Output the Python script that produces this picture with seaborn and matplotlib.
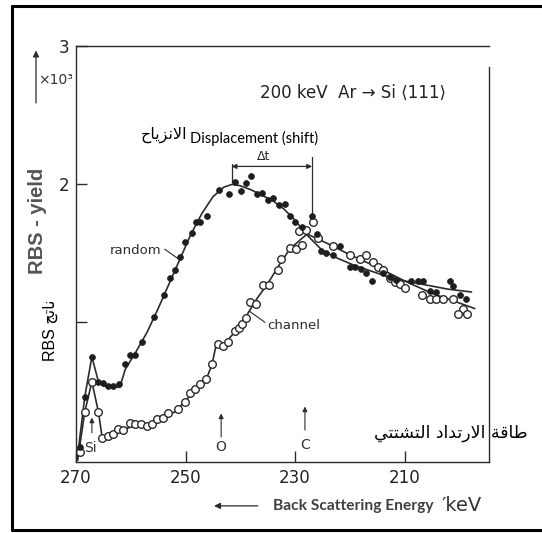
import matplotlib
matplotlib.use("Agg")
import matplotlib.pyplot as plt
import seaborn as sns
import pandas as pd
from matplotlib.lines import Line2D

# ---------------- data ----------------
random_x = [269.3, 268.4, 267.1, 265.9, 265.0, 264.1, 263.2, 262.1, 261.1, 260.1,
            259.2, 258.0, 255.8, 253.9, 252.8, 251.9, 251.0, 250.1, 248.9, 248.0,
            247.3, 246.0, 243.8, 242.0, 240.9, 239.8, 239.0, 238.1, 237.0, 236.1,
            234.9, 234.0, 232.9, 231.9, 230.9, 230.0, 228.8, 227.0, 226.0, 225.2,
            224.3, 223.0, 221.8, 220.0, 219.1, 217.9, 217.0, 216.0, 213.9, 212.7,
            211.5, 208.8, 207.5, 206.6, 205.4, 204.2, 201.8, 201.2, 199.9, 198.8]
random_y = [0.10, 0.46, 0.75, 0.57, 0.56, 0.54, 0.54, 0.55, 0.70, 0.76,
            0.76, 0.86, 1.04, 1.20, 1.32, 1.38, 1.47, 1.58, 1.65, 1.73,
            1.73, 1.77, 1.96, 1.93, 2.02, 1.95, 2.01, 2.06, 1.93, 1.94,
            1.89, 1.90, 1.85, 1.86, 1.77, 1.73, 1.69, 1.77, 1.64, 1.52,
            1.50, 1.49, 1.55, 1.40, 1.40, 1.39, 1.36, 1.30, 1.36, 1.33,
            1.31, 1.30, 1.30, 1.30, 1.23, 1.22, 1.30, 1.26, 1.20, 1.17]

channel_x = [269.3, 268.4, 267.1, 265.9, 265.2, 264.1, 263.2, 262.3, 261.4, 260.1,
             259.2, 258.2, 257.1, 256.2, 255.2, 254.1, 253.2, 251.3, 250.1, 249.2,
             248.3, 247.4, 246.2, 245.1, 244.1, 243.2, 242.2, 241.0, 240.3, 239.7,
             239.0, 238.3, 237.2, 235.9, 234.7, 233.1, 232.6, 230.9, 229.9, 228.8,
             229.2, 228.0, 226.8, 225.8, 223.0, 220.0, 218.2, 217.0, 215.7, 214.8,
             213.9, 212.7, 211.8, 210.9, 210.0, 206.9, 205.4, 204.2, 203.0, 201.2,
             199.4, 200.2, 198.7]
channel_y = [0.06, 0.35, 0.57, 0.35, 0.16, 0.18, 0.19, 0.23, 0.22, 0.27,
             0.26, 0.26, 0.25, 0.26, 0.30, 0.31, 0.34, 0.37, 0.42, 0.49,
             0.52, 0.55, 0.59, 0.70, 0.84, 0.83, 0.86, 0.94, 0.96, 0.99,
             1.03, 1.15, 1.13, 1.27, 1.27, 1.38, 1.46, 1.54, 1.53, 1.56,
             1.66, 1.67, 1.73, 1.61, 1.55, 1.49, 1.46, 1.49, 1.44, 1.40,
             1.38, 1.32, 1.29, 1.28, 1.25, 1.20, 1.17, 1.17, 1.17, 1.17,
             1.10, 1.06, 1.06]

# hand-drawn guide curves through the points
random_curve_x = [269.8, 268.4, 267.1, 265.9, 265.0, 263.0, 262.0, 261.0, 259.0, 257.0,
                  255.0, 253.0, 251.0, 249.0, 247.0, 245.0, 243.0, 241.5, 240.0, 238.0,
                  236.0, 234.0, 232.0, 230.0, 228.0, 226.0, 225.0, 222.0, 219.0, 216.0,
                  213.0, 210.0, 206.0, 202.0, 197.8]
random_curve_y = [0.00, 0.46, 0.75, 0.57, 0.54, 0.53, 0.53, 0.66, 0.79, 0.93,
                  1.10, 1.28, 1.46, 1.64, 1.79, 1.91, 1.98, 2.00, 1.99, 1.96,
                  1.92, 1.88, 1.82, 1.74, 1.64, 1.56, 1.52, 1.46, 1.41, 1.37,
                  1.33, 1.30, 1.27, 1.24, 1.22]
channel_curve_x = [269.7, 268.4, 267.1, 265.9, 265.2, 263.0, 261.0, 258.0, 256.0, 254.0,
                   252.0, 250.0, 248.0, 246.0, 245.2, 244.5, 243.0, 241.0, 239.0, 237.0,
                   235.0, 233.0, 231.0, 229.0, 227.8, 224.0, 220.0, 215.0, 210.0, 205.0,
                   200.0, 197.2]
channel_curve_y = [0.00, 0.35, 0.57, 0.35, 0.16, 0.19, 0.23, 0.26, 0.27, 0.31,
                   0.35, 0.43, 0.53, 0.61, 0.69, 0.82, 0.84, 0.93, 1.04, 1.17,
                   1.28, 1.41, 1.53, 1.60, 1.64, 1.57, 1.49, 1.40, 1.30, 1.21,
                   1.14, 1.10]

x_ticks = [270, 250, 230, 210]
x_tick_labels = ["270", "250", "230", "210"]
y_ticks = [1, 2, 3]
y_tick_labels = ["", "2", "3"]


def visual(shaped):
    """Arabic text given as shaped presentation forms in logical order -> visual LTR order."""
    return shaped[::-1]


AR_SHIFT = visual("\uFE8D\uFEFB\uFEE7\uFEB0\uFEF3\uFE8E\uFEA1")  # الانزياح
AR_ENERGY = visual("\uFEC3\uFE8E\uFED7\uFE94" + " " +
                   "\uFE8D\uFEFB\uFEAD\uFE97\uFEAA\uFE8D\uFEA9" + " " +
                   "\uFE8D\uFEDF\uFE98\uFEB8\uFE98\uFE98\uFEF2")  # طاقة الارتداد التشتتي
AR_YIELD = visual("\uFEE7\uFE8E\uFE97\uFE9E")  # ناتج

# ---------------- figure ----------------
sns.set_theme(style="white")
plt.rcParams['font.family'] = ['DejaVu Sans']

INK = "#2b2b2b"
fig = plt.figure(figsize=(5.42, 5.33), dpi=100)
fig.patch.set_facecolor("white")
ax = fig.add_axes([0.1402, 0.1332, 0.9022 - 0.1402, 0.913 - 0.1332])
ax.set_facecolor("white")

df_rc = pd.DataFrame({"E": random_curve_x, "Y": random_curve_y})
df_cc = pd.DataFrame({"E": channel_curve_x, "Y": channel_curve_y})
df_r = pd.DataFrame({"E": random_x, "Y": random_y})
df_c = pd.DataFrame({"E": channel_x, "Y": channel_y})

sns.lineplot(data=df_rc, x="E", y="Y", sort=False, estimator=None, color=INK, lw=1.2, ax=ax, zorder=2)
sns.lineplot(data=df_cc, x="E", y="Y", sort=False, estimator=None, color=INK, lw=1.2, ax=ax, zorder=2)
sns.scatterplot(data=df_c, x="E", y="Y", s=30, facecolor="white", edgecolor=INK, linewidth=1.0, ax=ax, zorder=3)
sns.scatterplot(data=df_r, x="E", y="Y", s=18, color="#1e1e1e", edgecolor="#1e1e1e", linewidth=0.5, ax=ax, zorder=4)

ax.set_xlim(270, 194.6)
ax.set_ylim(-0.012, 3.0)
ax.set_xticks(x_ticks)
ax.set_xticklabels(x_tick_labels)
ax.set_yticks(y_ticks)
ax.set_yticklabels(y_tick_labels)
ax.set_xlabel("")
ax.set_ylabel("")
ax.tick_params(axis="both", direction="in", length=8, width=1.0, color=INK,
               labelsize=12, labelcolor="#222222", bottom=True, left=True, pad=5)
for side, sp in ax.spines.items():
    sp.set_visible(True)
    sp.set_color(INK)
    sp.set_linewidth(1.0)
ax.spines["right"].set_bounds(-0.012, 2.85)

# ---------------- annotations ----------------
ax.text(236.4, 2.66, "200 keV  Ar \u2192 Si \u27e8111\u27e9", fontsize=12, color="#222222",
        ha="left", va="center")
ax.text(249.7, 2.36, AR_SHIFT, fontsize=11.5, color="black", ha="right", va="center",
        family=["DejaVu Sans"])
ax.text(249.2, 2.335, "Displacement (shift)", fontsize=10.5, color="black", ha="left",
        va="center", family=["Lato", "DejaVu Sans"])
ax.text(235.7, 2.20, "\u0394t", fontsize=9, color=INK, ha="center", va="center")
ax.annotate("", xy=(241.6, 2.13), xytext=(226.9, 2.13),
            arrowprops=dict(arrowstyle="<|-|>", color=INK, lw=0.9, mutation_scale=7,
                            shrinkA=0, shrinkB=0))
ax.plot([241.6, 241.6], [2.15, 2.02], color=INK, lw=0.9)
ax.plot([226.9, 226.9], [2.20, 1.78], color=INK, lw=0.9)

ax.text(254.5, 1.52, "random", fontsize=9.5, color=INK, ha="right", va="center")
ax.plot([253.8, 251.3], [1.53, 1.46], color=INK, lw=0.8)
ax.text(235.0, 0.975, "channel", fontsize=9.5, color=INK, ha="left", va="center")
ax.plot([238.3, 235.5], [1.08, 1.00], color=INK, lw=0.8)

for xa, yb, yt, lab, yl in [(267.1, 0.20, 0.31, "Si", 0.09), (243.5, 0.17, 0.34, "O", 0.10),
                            (228.2, 0.22, 0.39, "C", 0.11)]:
    ax.annotate("", xy=(xa, yt), xytext=(xa, yb),
                arrowprops=dict(arrowstyle="-|>", color=INK, lw=0.8, mutation_scale=7,
                                shrinkA=0, shrinkB=0))
    if lab == "Si":
        ax.text(268.6, yl, lab, fontsize=10, color="#333333", ha="left", va="center")
    else:
        ax.text(xa, yl, lab, fontsize=10, color="#333333", ha="center", va="center")

ax.text(201.5, 0.20, AR_ENERGY, fontsize=12.5, color="black", ha="center", va="center",
        family=["DejaVu Sans"], clip_on=False)

# axis titles
ax.annotate("", xy=(244.8, -0.33), xytext=(236.8, -0.33), annotation_clip=False,
            arrowprops=dict(arrowstyle="-|>", color=INK, lw=0.9, mutation_scale=9,
                            shrinkA=0, shrinkB=0))
ax.text(234.05, -0.33, "Back Scattering Energy", fontsize=11.2, fontweight="bold",
        color="#404040", ha="left", va="center", family=["Lato", "DejaVu Sans"], clip_on=False)
ax.text(203.2, -0.33, "\u2032keV", fontsize=14, color="#333333", ha="left", va="center",
        clip_on=False)

ax.annotate("", xy=(277.3, 2.97), xytext=(277.3, 2.59), annotation_clip=False,
            arrowprops=dict(arrowstyle="-|>", color=INK, lw=0.9, mutation_scale=9,
                            shrinkA=0, shrinkB=0))
ax.text(273.8, 2.756, "\u00d710\u00b3", fontsize=10, color="#333333", ha="center", va="center",
        clip_on=False)
ax.text(277.1, 1.734, "RBS - yield", fontsize=14.5, fontweight="bold", color="#555555",
        rotation=90, ha="center", va="center", family=["Liberation Sans", "DejaVu Sans"],
        clip_on=False)
ax.text(274.7, 0.944, "RBS " + AR_YIELD, fontsize=11.5, color="black", rotation=90,
        ha="center", va="center", family=["Liberation Sans", "DejaVu Sans"], clip_on=False)

# outer frame of the scanned page (right side is cut off)
fx = 12 / 542
fy_top = 1 - 6 / 533
fy_bot = 1 - 530 / 533
for xs, ys in [([fx, fx], [fy_bot, fy_top]), ([fx, 1.0], [fy_top, fy_top]),
               ([fx, 1.0], [fy_bot, fy_bot])]:
    fig.add_artist(Line2D(xs, ys, transform=fig.transFigure, color="black", lw=2.2))

fig.savefig("out.png", dpi=100)
